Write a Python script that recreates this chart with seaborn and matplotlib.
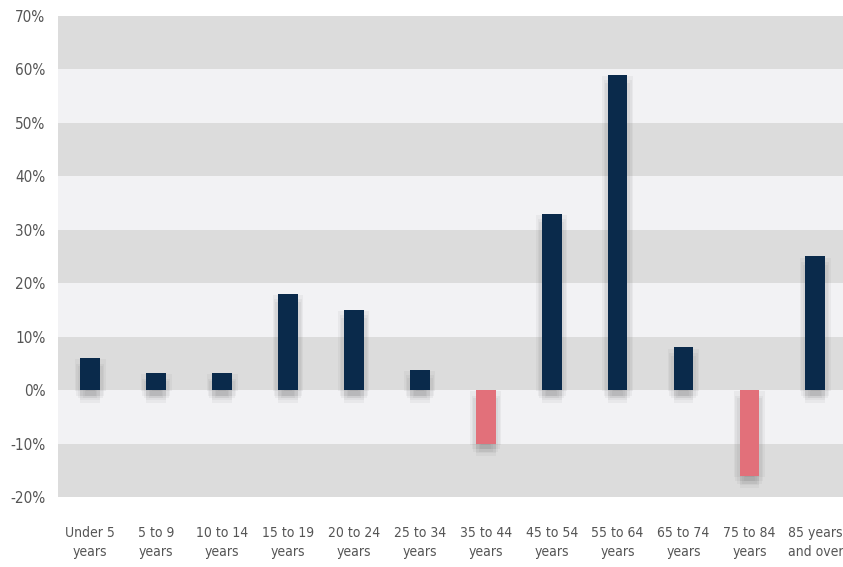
import matplotlib
matplotlib.use('Agg')
import matplotlib.pyplot as plt
import matplotlib.patheffects as pe
from matplotlib import font_manager
import seaborn as sns
import pandas as pd

# Chart data
age_groups = ['Under 5\nyears', '5 to 9\nyears', '10 to 14\nyears', '15 to 19\nyears',
              '20 to 24\nyears', '25 to 34\nyears', '35 to 44\nyears', '45 to 54\nyears',
              '55 to 64\nyears', '65 to 74\nyears', '75 to 84\nyears', '85 years\nand over']
pct_change = [6, 3.2, 3.2, 18, 15, 3.8, -10, 33, 59, 8, -16, 25]
y_ticks = [-20, -10, 0, 10, 20, 30, 40, 50, 60, 70]

NAVY = '#0a2a4b'
PINK = '#e2707a'
BAND_DARK = '#dcdcdc'
BAND_LIGHT = '#f2f2f4'
TEXT = '#555555'

sns.set_style('white')
plt.rcParams['font.family'] = ['DejaVu Sans']


# look for a narrow sans face; fall back to a regular one
def narrow_font():
    for f in font_manager.fontManager.ttflist:
        if ('Narrow' in f.name or 'Condensed' in f.name or f.stretch in ('condensed', 'semi-condensed')) \
                and f.weight in (400, 'normal', 'regular') and f.style == 'normal':
            return font_manager.FontProperties(fname=f.fname), True
    return font_manager.FontProperties(family='Liberation Sans'), False


fprop, is_narrow = narrow_font()

df = pd.DataFrame({'group': age_groups, 'value': pct_change})
df['sign'] = ['pos' if v >= 0 else 'neg' for v in df['value']]

fig = plt.figure(figsize=(8.43, 5.67), dpi=100)
ax = fig.add_axes([0.0688, 0.1235, 0.9312, 0.8483])

# alternating background bands, dark at the top
for i in range(len(y_ticks) - 1):
    color = BAND_DARK if (len(y_ticks) - 2 - i) % 2 == 0 else BAND_LIGHT
    ax.axhspan(y_ticks[i], y_ticks[i + 1], color=color, zorder=0, lw=0)

sns.barplot(data=df, x='group', y='value', hue='sign',
            palette={'pos': NAVY, 'neg': PINK}, width=0.3, linewidth=0,
            saturation=1, dodge=False, legend=False, ax=ax, zorder=3)

# soft drop shadow under the bars
shadow = [pe.SimplePatchShadow(offset=(dx, dy), shadow_rgbFace='#555555', alpha=0.06)
          for dx, dy in [(-3, -4), (3, -4), (0, -7), (-2, -6), (2, -6), (0, -4),
                         (-4, -1), (4, -1), (0, -9)]]
for cont in ax.containers:
    for bar in cont:
        bar.set_path_effects(shadow + [pe.Normal()])

ax.set_ylim(-20, 70)
ax.set_xlim(-0.49, 11.42)
ax.set_yticks(y_ticks)
ax.set_yticklabels([f'{t}%' for t in y_ticks])
ax.set_xlabel('')
ax.set_ylabel('')
ax.tick_params(axis='y', colors=TEXT, length=0, pad=9)
ax.tick_params(axis='x', colors=TEXT, length=0, pad=21)
ysize = 11 if is_narrow else 10
xsize = 10 if is_narrow else 9
for lbl in ax.get_yticklabels():
    lbl.set_fontproperties(fprop)
    lbl.set_fontsize(ysize)
for lbl in ax.get_xticklabels():
    lbl.set_fontproperties(fprop)
    lbl.set_fontsize(xsize)
    lbl.set_linespacing(1.45)
for s in ax.spines.values():
    s.set_visible(False)

fig.savefig('out.png', dpi=100)
